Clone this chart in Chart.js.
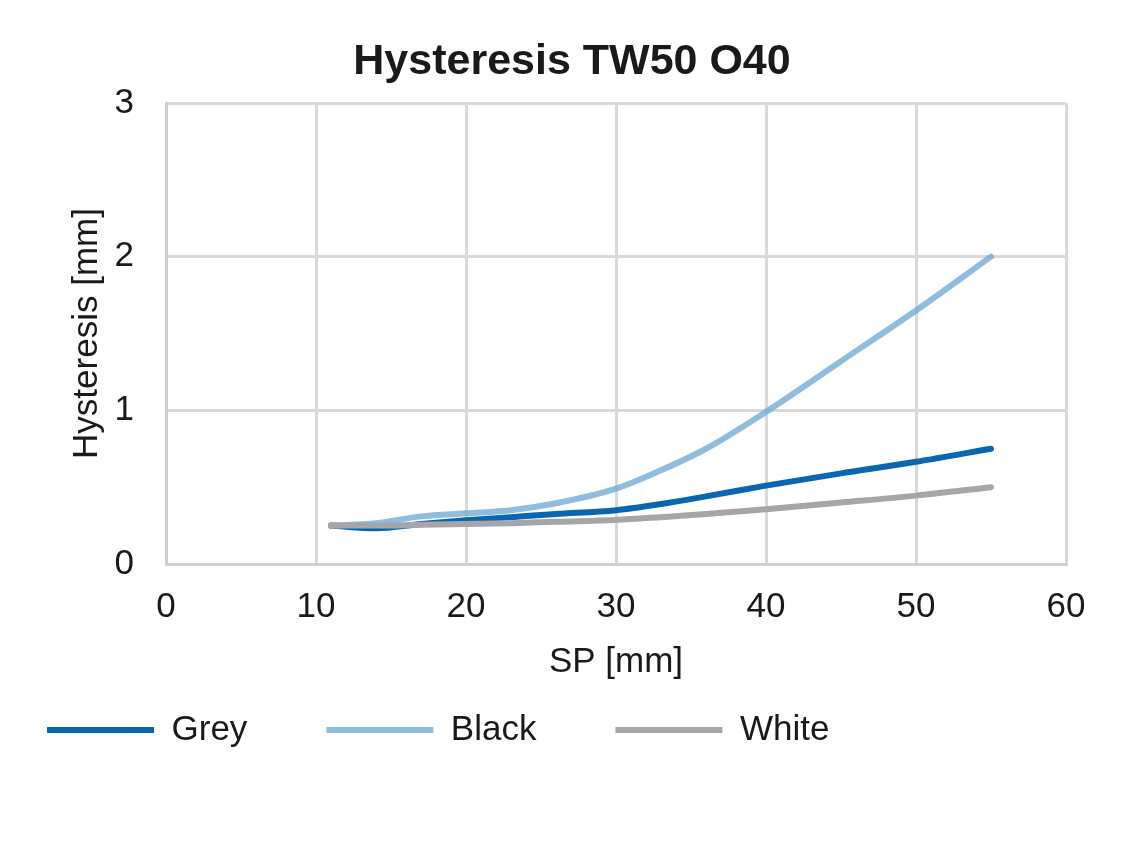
<!DOCTYPE html>
<html>
<head>
<meta charset="utf-8">
<script src="https://cdn.jsdelivr.net/npm/chart.js@4.4.0/dist/chart.umd.min.js"></script>
<style>
  html, body { margin: 0; padding: 0; background: #ffffff; }
  #wrap { width: 1134px; height: 864px; }
</style>
</head>
<body>
<div id="wrap"><canvas id="c" width="1134" height="864"></canvas></div>
<script>
const chartTitle = "Hysteresis TW50 O40";
const xTitle = "SP [mm]";
const yTitle = "Hysteresis [mm]";
const seriesNames = ["Grey", "Black", "White"];
const spValues = [11, 14, 17, 20, 23, 26, 30, 33, 36, 40, 45, 50, 55];
const greyValues  = [0.25, 0.232, 0.26, 0.285, 0.305, 0.325, 0.35, 0.39, 0.44, 0.51, 0.59, 0.665, 0.75];
const blackValues = [0.25, 0.265, 0.31, 0.33, 0.35, 0.395, 0.49, 0.61, 0.75, 0.99, 1.32, 1.65, 2.0];
const whiteValues = [0.25, 0.25, 0.255, 0.26, 0.265, 0.275, 0.287, 0.305, 0.325, 0.356, 0.40, 0.445, 0.50];
const xTicks = [0, 10, 20, 30, 40, 50, 60];
const yTicks = [0, 1, 2, 3];

const FONT = "'Liberation Sans', Arial, Helvetica, sans-serif";
const toPts = vals => spValues.map((x, i) => ({ x: x, y: vals[i] }));

const boxShift = {
  id: 'boxShift',
  afterLayout(chart) {
    const lg = chart.legend;
    if (lg) {
      lg.left = -32;
      lg.right = 1034;
      lg.top = 633.5;
      lg.bottom = lg.top + lg.height;
    }
    const tb = chart.titleBlock;
    if (tb) {
      tb.left = 10;
      tb.right = 1134;
      tb.width = tb.right - tb.left;
    }
  }
};

const lineCommon = {
  borderWidth: 6,
  pointRadius: 0,
  pointHoverRadius: 0,
  fill: false,
  cubicInterpolationMode: 'monotone',
  borderCapStyle: 'round',
  borderJoinStyle: 'round',
  pointStyle: 'line'
};

new Chart(document.getElementById('c'), {
  type: 'line',
  data: {
    datasets: [
      Object.assign({ label: seriesNames[0], data: toPts(greyValues), borderColor: '#0B66B2', backgroundColor: '#0B66B2', order: 3 }, lineCommon),
      Object.assign({ label: seriesNames[1], data: toPts(blackValues), borderColor: 'rgba(112,170,214,0.78)', backgroundColor: 'rgba(112,170,214,0.78)', order: 2 }, lineCommon),
      Object.assign({ label: seriesNames[2], data: toPts(whiteValues), borderColor: '#A6A6AA', backgroundColor: '#A6A6AA', order: 1 }, lineCommon)
    ]
  },
  options: {
    responsive: false,
    animation: false,
    devicePixelRatio: 1,
    layout: { padding: { left: 0, right: 68, top: 0, bottom: 0 } },
    plugins: {
      title: {
        display: true,
        text: chartTitle,
        color: '#1a1a1a',
        font: { family: FONT, size: 43, weight: 'bold' },
        padding: { top: 36, bottom: 15.4 }
      },
      legend: {
        display: true,
        position: 'bottom',
        align: 'start',
        labels: {
          usePointStyle: true,
          pointStyleWidth: 107,
          boxHeight: 35,
          padding: 79,
          color: '#1a1a1a',
          font: { family: FONT, size: 35 },
          sort: (a, b) => a.datasetIndex - b.datasetIndex
        }
      },
      tooltip: { enabled: false }
    },
    scales: {
      x: {
        type: 'linear',
        min: 0,
        max: 60,
        afterBuildTicks: s => { s.ticks = xTicks.map(v => ({ value: v })); },
        afterFit: s => { s.height = 176; },
        grid: { color: '#D9D9D9', lineWidth: 3, drawTicks: false },
        border: { color: '#D0D0D0', width: 3 },
        ticks: { color: '#1a1a1a', font: { family: FONT, size: 35 }, padding: 22, maxRotation: 0 },
        title: { display: true, text: xTitle, color: '#1a1a1a', font: { family: FONT, size: 35 }, padding: { top: 0, bottom: 57 } }
      },
      y: {
        type: 'linear',
        min: 0,
        max: 3,
        afterBuildTicks: s => { s.ticks = yTicks.map(v => ({ value: v })); },
        afterFit: s => { s.width = 166; },
        grid: { color: '#D9D9D9', lineWidth: 3, drawTicks: false },
        border: { color: '#D0D0D0', width: 3 },
        ticks: { color: '#1a1a1a', font: { family: FONT, size: 35 }, padding: 32 },
        title: { display: true, text: yTitle, color: '#1a1a1a', font: { family: FONT, size: 35 }, padding: { top: 66, bottom: 0 } }
      }
    }
  },
  plugins: [boxShift]
});
</script>
</body>
</html>
